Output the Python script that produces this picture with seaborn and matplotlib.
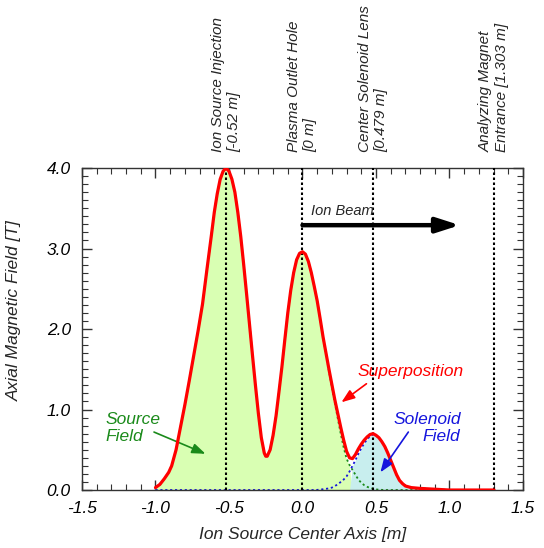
import numpy as np
import pandas as pd
import matplotlib
matplotlib.use('Agg')
import matplotlib.pyplot as plt
import seaborn as sns
from matplotlib.ticker import MultipleLocator

# positions along the ion source axis [m]
pos = [-1.00, -0.97, -0.94, -0.91, -0.89, -0.86, -0.83, -0.80, -0.77, -0.74,
       -0.71, -0.68, -0.65, -0.62, -0.60, -0.58, -0.56, -0.54, -0.52, -0.50,
       -0.48, -0.46, -0.44, -0.42, -0.40, -0.38, -0.36, -0.34, -0.32, -0.30,
       -0.28, -0.26, -0.25, -0.24, -0.22, -0.20, -0.18, -0.16, -0.14, -0.12,
       -0.10, -0.08, -0.06, -0.04, -0.02, 0.00, 0.02, 0.04, 0.06, 0.08,
       0.10, 0.12, 0.14, 0.16, 0.18, 0.20, 0.22, 0.24, 0.26, 0.28,
       0.30, 0.32, 0.34, 0.36, 0.38, 0.40, 0.42, 0.44, 0.46, 0.48,
       0.50, 0.52, 0.54, 0.56, 0.58, 0.60, 0.62, 0.64, 0.66, 0.68,
       0.70, 0.74, 0.80, 0.90, 1.00, 1.303]

# superposition of both fields [T]
superposition = [0.03, 0.07, 0.14, 0.22, 0.30, 0.50, 0.78, 1.06, 1.36, 1.67,
                 1.98, 2.31, 2.74, 3.16, 3.45, 3.68, 3.86, 3.96, 4.00, 3.96,
                 3.86, 3.70, 3.45, 3.15, 2.80, 2.43, 2.05, 1.67, 1.30, 0.95,
                 0.65, 0.46, 0.42, 0.42, 0.50, 0.68, 0.92, 1.22, 1.53, 1.87,
                 2.20, 2.48, 2.70, 2.86, 2.94, 2.96, 2.93, 2.84, 2.70, 2.53,
                 2.35, 2.13, 1.90, 1.70, 1.50, 1.31, 1.12, 0.95, 0.78, 0.62,
                 0.48, 0.40, 0.39, 0.44, 0.51, 0.57, 0.62, 0.66, 0.69, 0.70,
                 0.68, 0.65, 0.60, 0.54, 0.46, 0.37, 0.28, 0.19, 0.12, 0.08,
                 0.05, 0.03, 0.02, 0.01, 0.00, 0.00]

# ion source field [T]
source = [0.03, 0.07, 0.14, 0.22, 0.30, 0.50, 0.78, 1.06, 1.36, 1.67,
          1.98, 2.31, 2.74, 3.16, 3.45, 3.68, 3.86, 3.96, 4.00, 3.96,
          3.86, 3.70, 3.45, 3.15, 2.80, 2.43, 2.05, 1.67, 1.30, 0.95,
          0.65, 0.46, 0.42, 0.42, 0.50, 0.68, 0.92, 1.22, 1.53, 1.87,
          2.20, 2.48, 2.70, 2.86, 2.94, 2.96, 2.93, 2.84, 2.70, 2.53,
          2.35, 2.13, 1.90, 1.69, 1.48, 1.28, 1.08, 0.89, 0.70, 0.53,
          0.39, 0.31, 0.25, 0.19, 0.13, 0.09, 0.06, 0.04, 0.025, 0.015,
          0.008, 0.004, 0.002, 0.0, 0.0, 0.0, 0.0, 0.0, 0.0, 0.0,
          0.0, 0.0, 0.0, 0.0, 0.0, 0.0]

# solenoid lens field [T]
solenoid = [0.0, 0.0, 0.0, 0.0, 0.0, 0.0, 0.0, 0.0, 0.0, 0.0,
            0.0, 0.0, 0.0, 0.0, 0.0, 0.0, 0.0, 0.0, 0.0, 0.0,
            0.0, 0.0, 0.0, 0.0, 0.0, 0.0, 0.0, 0.0, 0.0, 0.0,
            0.0, 0.0, 0.0, 0.0, 0.0, 0.0, 0.0, 0.0, 0.0, 0.0,
            0.0, 0.0, 0.0, 0.0, 0.0, 0.0, 0.0, 0.0, 0.0, 0.0,
            0.002, 0.005, 0.01, 0.015, 0.02, 0.03, 0.05, 0.07, 0.10, 0.13,
            0.17, 0.23, 0.30, 0.37, 0.45, 0.52, 0.58, 0.63, 0.67, 0.69,
            0.68, 0.65, 0.60, 0.54, 0.46, 0.37, 0.28, 0.19, 0.12, 0.08,
            0.05, 0.03, 0.02, 0.01, 0.00, 0.00]

marker_pos = [-0.52, 0.0, 0.479, 1.303]
marker_labels = ['Ion Source Injection\n[-0.52 m]',
                 'Plasma Outlet Hole\n[0 m]',
                 'Center Solenoid Lens\n[0.479 m]',
                 'Analyzing Magnet\nEntrance [1.303 m]']

df = pd.DataFrame({'pos': pos, 'super': superposition,
                   'source': source, 'solenoid': solenoid})

sns.set_style('ticks')
plt.rcParams['font.family'] = ['Liberation Sans', 'DejaVu Sans']
plt.rcParams['font.style'] = 'italic'

fig = plt.figure(figsize=(5.44, 5.48), dpi=100)
ax = fig.add_axes([0.1507, 0.1058, 0.8107, 0.5876])

src = np.array(source)
sol = np.array(solenoid)
ax.fill_between(df['pos'], 0, df['source'], where=src >= sol, interpolate=True,
                color='#d9ffb3', lw=0, zorder=1)
ax.fill_between(df['pos'], 0, df['solenoid'], where=sol >= src, interpolate=True,
                color='#c8eeee', lw=0, zorder=1)
ax.plot(df['pos'], df['source'], color='#1a8a1a', ls=(0, (1.2, 1.5)), lw=1.3, zorder=2)
ax.plot(df['pos'], df['solenoid'], color='#1515dd', ls=(0, (1.2, 1.5)), lw=1.3, zorder=2)

for xp in marker_pos:
    ax.axvline(xp, color='black', ls=(0, (1.2, 1.2)), lw=1.5, zorder=3)

sns.lineplot(data=df, x='pos', y='super', color='#ff0000', lw=2.3, ax=ax, zorder=4)

for xp, lab in zip(marker_pos, marker_labels):
    ax.text(xp, 4.2, lab, rotation=90, rotation_mode='anchor', ha='left',
            va='center', fontsize=11, linespacing=1.2, clip_on=False)

ax.annotate('', xy=(1.07, 3.29), xytext=(0.0, 3.29),
            arrowprops=dict(arrowstyle='-|>,head_length=1.4,head_width=0.45',
                            color='black', lw=3.2, shrinkA=0, shrinkB=0), zorder=5)
ax.text(0.06, 3.47, 'Ion Beam', fontsize=10.5, va='center', ha='left')

ax.text(-1.34, 0.77, 'Source\nField', color='#1a8a1a', fontsize=12.5,
        va='center', ha='left', linespacing=1.1)
ax.annotate('', xy=(-0.66, 0.45), xytext=(-1.01, 0.72),
            arrowprops=dict(arrowstyle='-|>,head_length=0.8,head_width=0.3',
                            color='#1a8a1a', lw=1.2, shrinkA=0, shrinkB=0))

ax.text(0.374, 1.47, 'Superposition', color='#ff0000', fontsize=12.5,
        va='center', ha='left')
ax.annotate('', xy=(0.265, 1.09), xytext=(0.435, 1.32),
            arrowprops=dict(arrowstyle='-|>,head_length=0.8,head_width=0.3',
                            color='#ff0000', lw=1.2, shrinkA=0, shrinkB=0), zorder=6)

ax.text(1.075, 0.77, 'Solenoid\nField', color='#1515dd', fontsize=12.5,
        va='center', ha='right', multialignment='right', linespacing=1.1)
ax.annotate('', xy=(0.53, 0.22), xytext=(0.72, 0.72),
            arrowprops=dict(arrowstyle='-|>,head_length=0.8,head_width=0.3',
                            color='#1515dd', lw=1.2, shrinkA=0, shrinkB=0), zorder=6)

ax.set_xlim(-1.5, 1.5)
ax.set_ylim(0, 4.0)
ax.xaxis.set_minor_locator(MultipleLocator(0.1))
ax.yaxis.set_minor_locator(MultipleLocator(0.1))
ax.set_xticks([-1.5, -1.0, -0.5, 0.0, 0.5, 1.0, 1.5])
ax.set_xticklabels(['-1.5', '-1.0', '-0.5', '0.0', '0.5', '1.0', '1.5'])
ax.set_yticks([0, 1, 2, 3, 4])
ax.set_yticklabels(['0.0', '1.0', '2.0', '3.0', '4.0'])
ax.tick_params(which='both', direction='in', top=True, right=True, colors='#333333',
               labelcolor='black', labelsize=12.5)
ax.tick_params(which='major', length=7, width=1, pad=8)
ax.tick_params(which='minor', length=4, width=0.8)
for s in ax.spines.values():
    s.set_linewidth(1.0)
    s.set_color('#333333')

ax.set_xlabel('Ion Source Center Axis [m]', fontsize=12.5, labelpad=8)
ax.set_ylabel('Axial Magnetic Field [T]', fontsize=12.5)
ax.yaxis.set_label_coords(-0.136, 0.556)

fig.savefig('out.png', dpi=100)
